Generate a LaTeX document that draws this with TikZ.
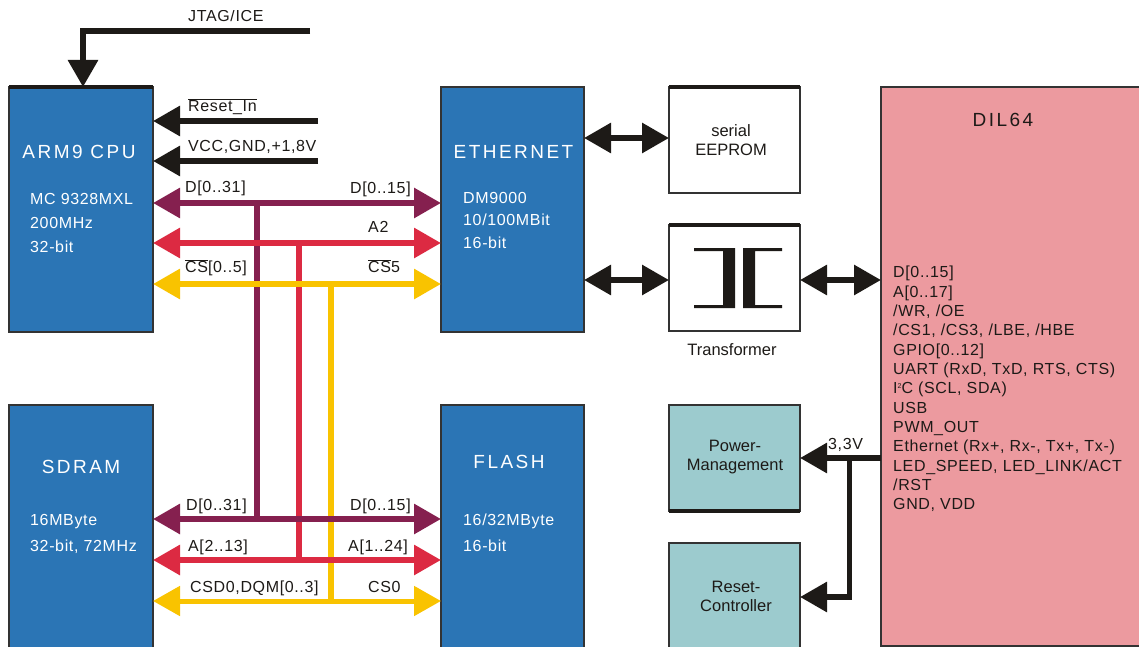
\documentclass[tikz,border=0pt]{standalone}
\usepackage{fontspec}
\setmainfont{Liberation Sans}
\usetikzlibrary{arrows.meta}
\definecolor{cblue}{HTML}{2B75B5}
\definecolor{cpink}{HTML}{EC9A9F}
\definecolor{cteal}{HTML}{9CCBCE}
\definecolor{cpurple}{HTML}{85204F}
\definecolor{cred}{HTML}{DC2A42}
\definecolor{cyel}{HTML}{F9C300}
\definecolor{cblk}{HTML}{1D1A17}
\definecolor{cedge}{HTML}{333333}
\newfontfamily\widefont[LetterSpace=13]{Liberation Sans}
\newfontfamily\midfont[LetterSpace=4]{Liberation Sans}
\newcommand{\ov}[1]{$\overline{\hbox{#1}}$}
\tikzset{
  x=1pt,y=-1pt,
  box/.style={draw=cedge,line width=2pt,inner sep=0pt,outer sep=0pt},
  wire/.style={line width=6pt,draw=cblk,-{Triangle[length=27pt,width=29pt]}},
  dwire/.style={line width=6pt,draw=cblk,{Triangle[length=27pt,width=29pt]}-{Triangle[length=27pt,width=29pt]}},
  bus/.style={line width=6pt,{Triangle[length=27pt,width=29pt]}-{Triangle[length=27pt,width=29pt]}},
  drop/.style={line width=6pt},
  lbl/.style={anchor=west,inner sep=0pt,text height=11.5pt,text depth=0pt,font=\midfont\fontsize{16}{18}\selectfont,text=cblk},
  wlbl/.style={lbl,text=white},
  head/.style={anchor=center,inner sep=0pt,text height=13.5pt,text depth=0pt,font=\widefont\fontsize{19}{22}\selectfont,text=white},
  ctr/.style={lbl,anchor=center,align=center,text height=,text depth=,font=\fontsize{16.5}{19}\selectfont},
}
\begin{document}
\begin{tikzpicture}
\useasboundingbox (0,0) rectangle (1139,647);
\fill[white] (0,0) rectangle (1139,647);
\clip (0,0) rectangle (1139,647);

% blocks
\node[box,fill=cblue,minimum width=144pt,minimum height=245pt] (arm) at (81,209.5) {};
\node[box,fill=cblue,minimum width=143pt,minimum height=245pt] (eth) at (512.5,209.5) {};
\node[box,fill=cblue,minimum width=144pt,minimum height=260pt] (sdram) at (81,535) {};
\node[box,fill=cblue,minimum width=143pt,minimum height=260pt] (flash) at (512.5,535) {};
\node[box,fill=white,minimum width=131pt,minimum height=106pt] (eep) at (734.5,140) {};
\node[box,fill=white,minimum width=131pt,minimum height=106pt] (trf) at (734.5,278) {};
\node[box,fill=cteal,minimum width=131pt,minimum height=106pt] (pwr) at (734.5,458) {};
\node[box,fill=cteal,minimum width=131pt,minimum height=120pt] (rst) at (734.5,603) {};
\node[box,fill=cpink,minimum width=270pt,minimum height=559pt] (dil) at (1016,366.5) {};

% heavier edges of the blocks
\draw[line width=4pt,cblk] (arm.north west) -- (arm.north east);
\draw[line width=4pt,cblk] (eep.north west) -- (eep.north east);
\draw[line width=4pt,cblk] (trf.north west) -- (trf.north east);
\draw[line width=4pt,cblk] (pwr.south west) -- (pwr.south east);

% levels of the connectors
\coordinate (jtagEnd) at (310,31);
\coordinate (jtagBend) at (83,31);
\coordinate (rstEnd) at (318,121);
\coordinate (vccEnd) at (318,161);
\coordinate (yD) at (0,203);
\coordinate (yA) at (0,243);
\coordinate (yC) at (0,284);
\coordinate (yDb) at (0,519);
\coordinate (yAb) at (0,560);
\coordinate (yCb) at (0,601);
\coordinate (xD) at (257,0);
\coordinate (xA) at (299,0);
\coordinate (xC) at (331,0);
\coordinate (yEep) at (0,138);
\coordinate (yTrf) at (0,280);
\coordinate (yPwr) at (0,458);
\coordinate (yRst) at (0,597);
\coordinate (xV) at (849,0);

% black signals
\draw[line width=6pt,draw=cblk,-{Triangle[length=27pt,width=29pt]}] (jtagEnd) -- (jtagBend) -- (jtagBend |- arm.north);
\draw[wire] (rstEnd) -- (arm.east |- rstEnd);
\draw[wire] (vccEnd) -- (arm.east |- vccEnd);
\draw[dwire] (eth.east |- yEep) -- (eep.west |- yEep);
\draw[dwire] (eth.east |- yTrf) -- (trf.west |- yTrf);
\draw[dwire] (trf.east |- yTrf) -- (dil.west |- yTrf);
\draw[wire] (dil.west |- yPwr) -- (pwr.east |- yPwr);
\draw[line width=5pt,draw=cblk,shorten >=-3pt] (xV |- yPwr) -- (xV |- yRst);
\draw[wire] (xV |- yRst) -- (rst.east |- yRst);

% vertical bus links
\draw[drop,draw=cpurple] (xD |- yD) -- (xD |- yDb);
\draw[drop,draw=cred] (xA |- yA) -- (xA |- yAb);
\draw[drop,draw=cyel] (xC |- yC) -- (xC |- yCb);

% buses
\draw[bus,draw=cpurple,fill=cpurple] (arm.east |- yD) -- (eth.west |- yD);
\draw[bus,draw=cred,fill=cred] (arm.east |- yA) -- (eth.west |- yA);
\draw[bus,draw=cyel,fill=cyel] (arm.east |- yC) -- (eth.west |- yC);
\draw[bus,draw=cpurple,fill=cpurple] (sdram.east |- yDb) -- (flash.west |- yDb);
\draw[bus,draw=cred,fill=cred] (sdram.east |- yAb) -- (flash.west |- yAb);
\draw[bus,line width=5pt,draw=cyel,fill=cyel] (sdram.east |- yCb) -- (flash.west |- yCb);

% transformer symbol
\fill[cblk] (694,248) rectangle (735,251) (723,248) rectangle (735,308) (694,305) rectangle (735,308);
\fill[cblk] (743,248) rectangle (782,251) (743,248) rectangle (755,308) (743,305) rectangle (782,308);

% texts in the blue blocks
\node[head] (tArm) at (79,152) {ARM9 CPU};
\node[wlbl] (tArm1) at (30,199) {MC 9328MXL};
\node[wlbl] (tArm2) at (30,223) {200MHz};
\node[wlbl] (tArm3) at (30,247) {32-bit};
\node[head] (tEth) at (513.5,152) {ETHERNET};
\node[wlbl] (tEth1) at (463,198) {DM9000};
\node[wlbl] (tEth2) at (463,220) {10/100MBit};
\node[wlbl] (tEth3) at (463,243) {16-bit};
\node[head] (tSd) at (81,467) {SDRAM};
\node[wlbl] (tSd1) at (30,520) {16MByte};
\node[wlbl] (tSd2) at (30,546) {32-bit, 72MHz};
\node[head] (tFl) at (509,462) {FLASH};
\node[wlbl] (tFl1) at (463,520) {16/32MByte};
\node[wlbl] (tFl2) at (463,546) {16-bit};

% signal labels
\begin{scope}
\clip (150,11) rectangle (330,40);
\node[lbl] (lJtag) at (188,16) {JTAG/ICE};
\end{scope}
\node[lbl] (lRst) at (188,106) {\ov{Reset\_In}};
\node[lbl] (lVcc) at (188,146) {VCC,GND,+1,8V};
\node[lbl] (lD1) at (185,187) {D[0..31]};
\node[lbl] (lD2) at (350,188) {D[0..15]};
\node[lbl] (lA2) at (368,227) {A2};
\node[lbl] (lC1) at (185,267) {\ov{CS}[0..5]};
\node[lbl] (lC2) at (368,267) {\ov{CS}5};
\node[lbl] (lD3) at (186,505) {D[0..31]};
\node[lbl] (lD4) at (350,505) {D[0..15]};
\node[lbl] (lA3) at (188,546) {A[2..13]};
\node[lbl] (lA4) at (348,546) {A[1..24]};
\node[lbl] (lC3) at (190,587) {CSD0,DQM[0..3]};
\node[lbl] (lC4) at (368,587) {CS0};

% right side texts
\node[ctr] (tEep) at (731,140) {serial\\EEPROM};
\node[ctr] (tTrf) at (732,350) {Transformer};
\node[ctr] (tPwr) at (735,457) {Power-\\Management};
\node[ctr] (tRst) at (736,596) {Reset-\\Controller};
\node[lbl] (l33) at (828,444) {3,3V};
\node[head,text=cblk] (tDil) at (1003,120) {DIL64};
\node[anchor=north west,inner sep=0pt,align=left,text=cblk,font=\midfont\fontsize{16}{19.35}\selectfont] (tPins) at (893,266) {D[0..15]\\A[0..17]\\/WR, /OE\\/CS1, /CS3, /LBE, /HBE\\GPIO[0..12]\\UART (RxD, TxD, RTS, CTS)\\I\raisebox{5pt}{\fontsize{7}{7}\selectfont 2}C (SCL, SDA)\\USB\\PWM\_OUT\\Ethernet (Rx+, Rx-, Tx+, Tx-)\\LED\_SPEED, LED\_LINK/ACT\\/RST\\GND, VDD};
\end{tikzpicture}
\end{document}
